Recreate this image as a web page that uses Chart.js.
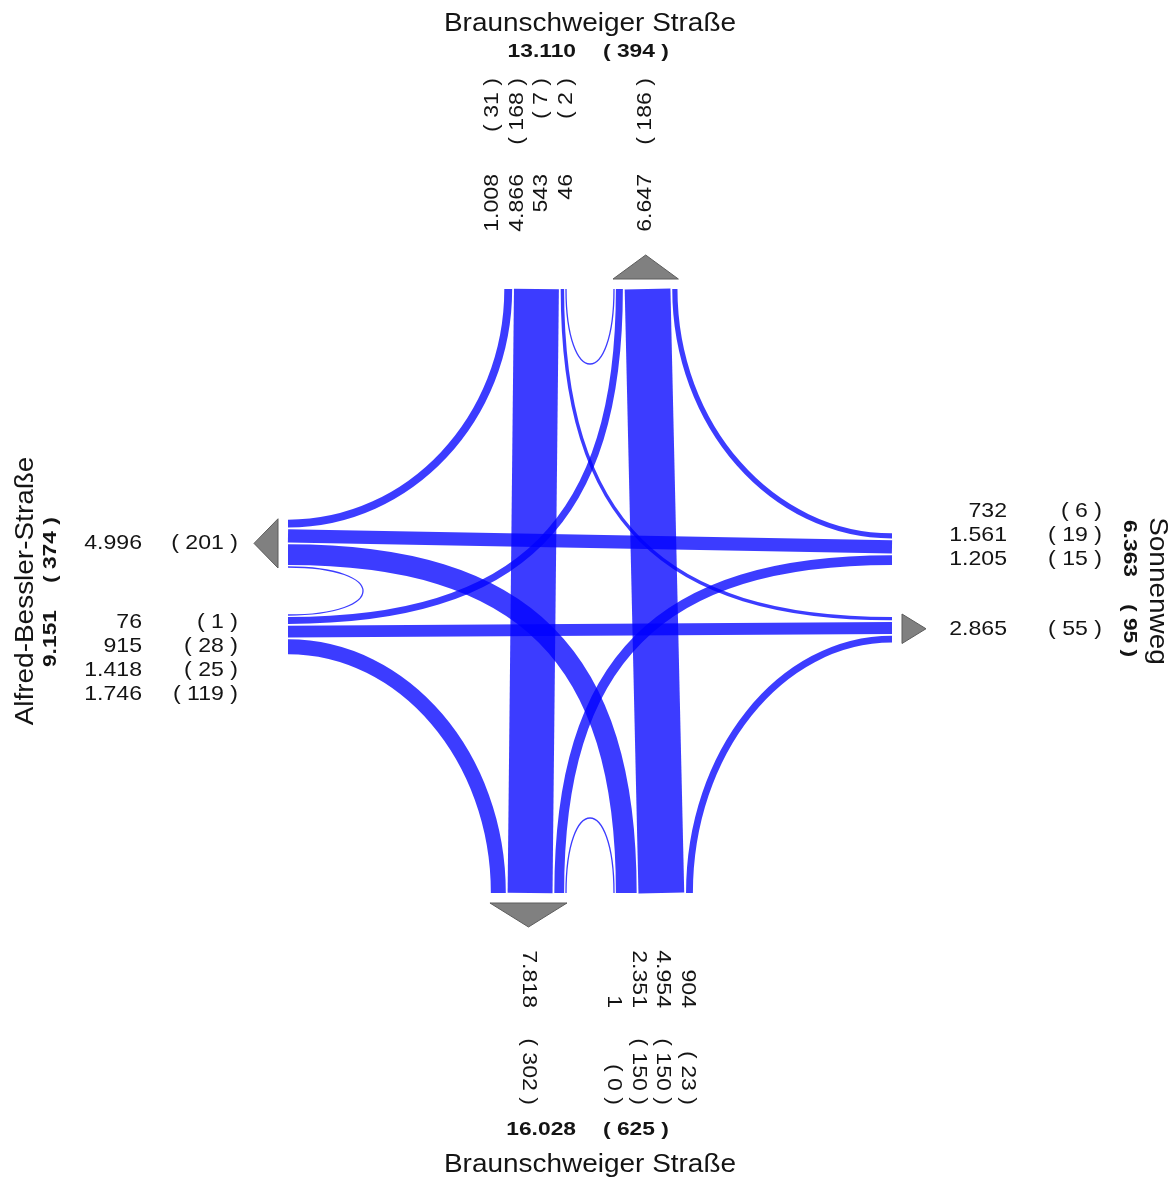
<!DOCTYPE html>
<html>
<head>
<meta charset="utf-8">
<title>Verkehrsstrombelastung</title>
<script src="https://cdn.jsdelivr.net/npm/chart.js@4.4.1/dist/chart.umd.min.js"></script>
<style>
  html, body { margin: 0; padding: 0; background: #fff; }
  #wrap { width: 1171px; height: 1180px; }
</style>
</head>
<body>
<div id="wrap"><canvas id="flows"></canvas></div>
<script>
// Arms in clockwise order: north, east, south, west
var armNames = ['Braunschweiger Straße', 'Sonnenweg', 'Braunschweiger Straße', 'Alfred-Bessler-Straße'];
var armTotal = [13110, 6363, 16028, 9151];
var armTotalHeavy = [394, 95, 625, 374];

// Inflow per arm, order: U-turn, left, straight, right (null = movement not present)
var inNorth = [46, 543, 4866, 1008];
var inNorthHeavy = [2, 7, 168, 31];
var inEast = [null, 1205, 1561, 732];
var inEastHeavy = [null, 15, 19, 6];
var inSouth = [1, 2351, 4954, 904];
var inSouthHeavy = [0, 150, 150, 23];
var inWest = [76, 915, 1418, 1746];
var inWestHeavy = [1, 28, 25, 119];

// Outflow per arm
var outFlow = [6647, 2865, 7818, 4996];
var outHeavy = [186, 55, 302, 201];

var inFlows = [inNorth, inEast, inSouth, inWest];
var inHeavy = [inNorthHeavy, inEastHeavy, inSouthHeavy, inWestHeavy];

// layout (in scale units)
var CX = 590, CY = 591, ARM_LEN = 302, INNER = 23, U_SLOT = 2, PER_VEH = 0.0096, GAP = 1.8;
var BAND = 'rgba(0,0,255,0.765)';
var TEXT = '#141414';
var DIRS = [[0, -1], [1, 0], [0, 1], [-1, 0]];

function fmt(n) {
  return String(n).replace(/\B(?=(\d{3})+(?!\d))/g, '.');
}
function paren(n) { return '( ' + n + ' )'; }

function slotWidth(v, m) {
  if (m === 0) return U_SLOT;
  return v == null ? 0 : v * PER_VEH;
}

function drawText(ctx, str, x, y, angle, align, font, sx) {
  ctx.save();
  ctx.translate(x, y);
  ctx.rotate(angle);
  ctx.scale(sx, 1);
  ctx.font = font;
  ctx.textAlign = align;
  ctx.textBaseline = 'middle';
  ctx.fillStyle = TEXT;
  ctx.fillText(str, 0, 0);
  ctx.restore();
}

var flowPlugin = {
  id: 'flowPlot',
  afterDraw: function (chart) {
    var ctx = chart.ctx, xs = chart.scales.x, ys = chart.scales.y;
    var unit = Math.abs(xs.getPixelForValue(1) - xs.getPixelForValue(0));
    function P(p) { return [xs.getPixelForValue(p[0]), ys.getPixelForValue(p[1])]; }
    function side(i) { return [DIRS[i][1], -DIRS[i][0]]; }   // entry side of arm i
    function armPt(i, sgn, off, dist) {
      var u = DIRS[i], s = side(i), d = dist == null ? ARM_LEN : dist;
      return [CX + u[0] * d + sgn * off * s[0], CY + u[1] * d + sgn * off * s[1]];
    }

    // lateral slot centres at entry
    var entryPos = [];
    for (var i = 0; i < 4; i++) {
      var o = INNER; entryPos[i] = [];
      for (var m = 0; m < 4; m++) {
        var w = slotWidth(inFlows[i][m], m);
        entryPos[i][m] = o + w / 2; o += w;
      }
    }
    // lateral slot centres at exit: U, left arrival, straight, right arrival
    var exitPos = [[], [], [], []], exitOuter = [];
    for (var j = 0; j < 4; j++) {
      var oe = INNER;
      var srcs = [[j, 0], [(j + 3) % 4, 1], [(j + 2) % 4, 2], [(j + 1) % 4, 3]];
      srcs.forEach(function (sm) {
        var w = slotWidth(inFlows[sm[0]][sm[1]], sm[1]);
        exitPos[sm[0]][sm[1]] = oe + w / 2; oe += w;
      });
      exitOuter[j] = oe;
    }

    ctx.save();
    ctx.lineCap = 'butt';
    ctx.strokeStyle = BAND;
    for (var a = 0; a < 4; a++) {
      for (var mv = 0; mv < 4; mv++) {
        var v = inFlows[a][mv];
        if (v == null) continue;
        var dest = (a + mv) % 4;
        var p0 = armPt(a, 1, entryPos[a][mv]);
        var p3 = armPt(dest, -1, exitPos[a][mv]);
        var ui = DIRS[a], uj = DIRS[dest];
        ctx.beginPath();
        var s0 = P(p0), s3 = P(p3);
        ctx.moveTo(s0[0], s0[1]);
        if (mv === 2) {
          ctx.lineTo(s3[0], s3[1]);
        } else {
          var p1, p2;
          if (mv === 0) {
            var depth = 100;
            p1 = [p0[0] - ui[0] * depth, p0[1] - ui[1] * depth];
            p2 = [p3[0] - uj[0] * depth, p3[1] - uj[1] * depth];
          } else {
            // control points toward the corner where both lanes would meet
            var t = (p3[0] - p0[0]) * -ui[0] + (p3[1] - p0[1]) * -ui[1];
            var k = [p0[0] - ui[0] * t, p0[1] - ui[1] * t];
            var f = mv === 1 ? 0.70 : 0.552;
            p1 = [p0[0] + f * (k[0] - p0[0]), p0[1] + f * (k[1] - p0[1])];
            p2 = [p3[0] + f * (k[0] - p3[0]), p3[1] + f * (k[1] - p3[1])];
          }
          var s1 = P(p1), s2 = P(p2);
          ctx.bezierCurveTo(s1[0], s1[1], s2[0], s2[1], s3[0], s3[1]);
        }
        ctx.lineWidth = (mv === 0 ? 1.3 : Math.max(v * PER_VEH - GAP, 1.2)) * unit;
        ctx.stroke();
      }
    }
    ctx.restore();

    // exit triangles
    ctx.save();
    ctx.fillStyle = '#808080';
    ctx.strokeStyle = '#5c5c5c';
    ctx.lineWidth = 1;
    for (var q = 0; q < 4; q++) {
      var b1 = P(armPt(q, -1, INNER, ARM_LEN + 10));
      var b2 = P(armPt(q, -1, exitOuter[q], ARM_LEN + 10));
      var ap = P(armPt(q, -1, (INNER + exitOuter[q]) / 2, ARM_LEN + 34));
      ctx.beginPath();
      ctx.moveTo(b1[0], b1[1]); ctx.lineTo(b2[0], b2[1]); ctx.lineTo(ap[0], ap[1]);
      ctx.closePath(); ctx.fill(); ctx.stroke();
    }
    ctx.restore();

    // labels
    var numFont = '21px "Liberation Sans", Arial, sans-serif';
    var boldFont = 'bold 19px "Liberation Sans", Arial, sans-serif';
    var nameFont = '26px "Liberation Sans", Arial, sans-serif';
    var angle = [-Math.PI / 2, 0, Math.PI / 2, 0];
    var nameAngle = [0, Math.PI / 2, 0, -Math.PI / 2];
    var readDir = [[1, 0], [0, 1], [1, 0], [0, -1]];
    var valueDist = [417, 417, 417, 448];
    var countDist = [513, 512, 514, 352];
    var lat0 = [24, 32, 24, 31.5];
    var step = [24.5, 24, 24.5, 24];
    var nameDist = [567, 567, 574, 564];
    var totalShift = [0, 0, 0, -5];

    for (var r = 0; r < 4; r++) {
      var idx = 0;
      for (var mm = 0; mm < 4; mm++) {
        if (inFlows[r][mm] == null) continue;
        var lat = lat0[r] + step[r] * idx++;
        var pv = P(armPt(r, 1, lat, valueDist[r]));
        var pc = P(armPt(r, 1, lat, countDist[r]));
        drawText(ctx, fmt(inFlows[r][mm]), pv[0], pv[1], angle[r], 'right', numFont, 1.1);
        drawText(ctx, paren(inHeavy[r][mm]), pc[0], pc[1], angle[r], 'right', numFont, 1.1);
      }
      var oc = (INNER + exitOuter[r]) / 2;
      var ov = P(armPt(r, -1, oc, valueDist[r]));
      var ocp = P(armPt(r, -1, oc, countDist[r]));
      drawText(ctx, fmt(outFlow[r]), ov[0], ov[1], angle[r], 'right', numFont, 1.1);
      drawText(ctx, paren(outHeavy[r]), ocp[0], ocp[1], angle[r], 'right', numFont, 1.1);

      // totals
      var u = DIRS[r], rd = readDir[r];
      var tc = [CX + u[0] * 539 + rd[0] * totalShift[r], CY + u[1] * 539 + rd[1] * totalShift[r]];
      var tn = P([tc[0] - rd[0] * 14, tc[1] - rd[1] * 14]);
      var th = P([tc[0] + rd[0] * 13, tc[1] + rd[1] * 13]);
      drawText(ctx, fmt(armTotal[r]), tn[0], tn[1], nameAngle[r], 'right', boldFont, 1.2);
      drawText(ctx, paren(armTotalHeavy[r]), th[0], th[1], nameAngle[r], 'left', boldFont, 1.2);

      var np = P([CX + u[0] * nameDist[r], CY + u[1] * nameDist[r]]);
      drawText(ctx, armNames[r], np[0], np[1], nameAngle[r], 'center', nameFont, 1.075);
    }
  }
};

new Chart(document.getElementById('flows'), {
  type: 'scatter',
  data: { datasets: [{ data: [], showLine: false }] },
  options: {
    responsive: true,
    maintainAspectRatio: false,
    animation: false,
    layout: { padding: 0 },
    plugins: { legend: { display: false }, tooltip: { enabled: false } },
    scales: {
      x: { type: 'linear', min: 0, max: 1171, display: false },
      y: { type: 'linear', min: 0, max: 1180, reverse: true, display: false }
    }
  },
  plugins: [flowPlugin]
});
</script>
</body>
</html>
